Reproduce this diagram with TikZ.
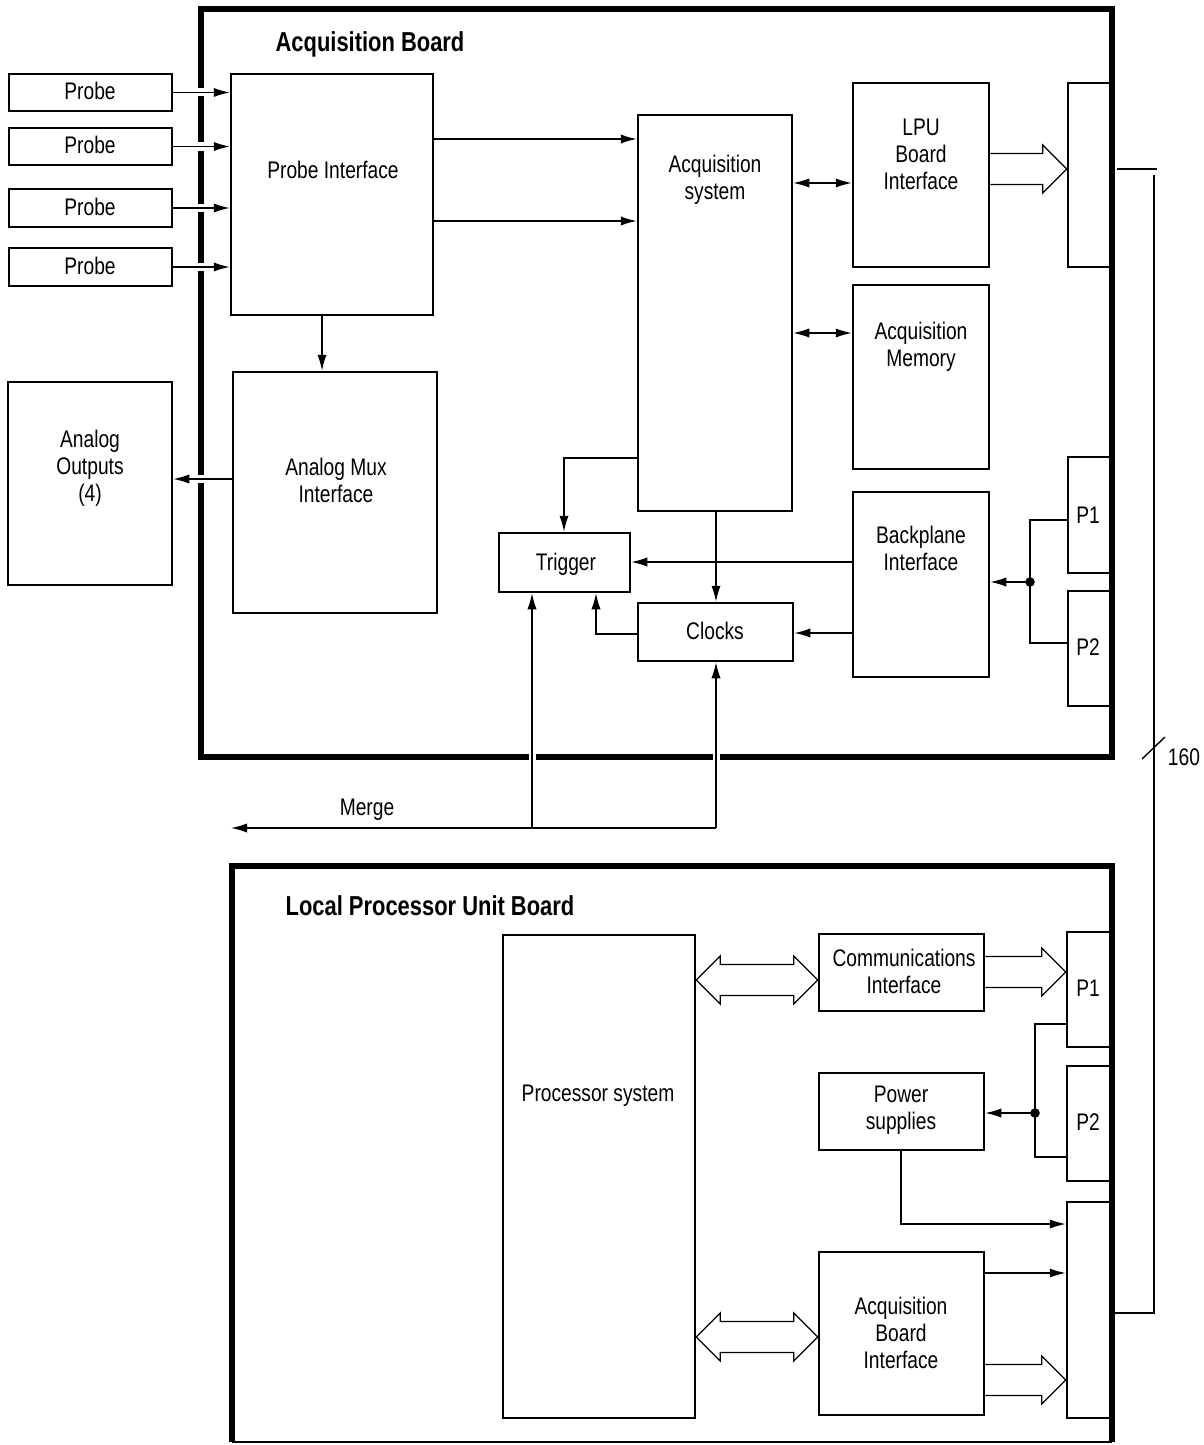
\documentclass[tikz,border=0pt]{standalone}
\usepackage{fontspec}
\setmainfont{Liberation Sans}[FakeStretch=0.8]
\usetikzlibrary{arrows.meta,fit,calc}
\newcommand\fatright[3]{\draw[fat] let \p1=(#1), \p2=(#2), \p3=(#3) in
  (\x1,\y3+7.75pt) -- (\x2-12pt,\y3+7.75pt) -- (\x2-12pt,\y3+12pt) -- (\x2,\y3)
  -- (\x2-12pt,\y3-12pt) -- (\x2-12pt,\y3-7.75pt) -- (\x1,\y3-7.75pt);}
\newcommand\fatboth[3]{\draw[fat] let \p1=(#1), \p2=(#2), \p3=(#3) in
  (\x1,\y3) -- (\x1+12pt,\y3+12pt) -- (\x1+12pt,\y3+7.75pt) -- (\x2-12pt,\y3+7.75pt)
  -- (\x2-12pt,\y3+12pt) -- (\x2,\y3) -- (\x2-12pt,\y3-12pt) -- (\x2-12pt,\y3-7.75pt)
  -- (\x1+12pt,\y3-7.75pt) -- (\x1+12pt,\y3-12pt) -- cycle;}
\begin{document}
\begin{tikzpicture}[x=0.5pt,y=-0.5pt,
  box/.style={draw, line width=1.25pt, inner sep=0pt},
  board/.style={draw=none, inner sep=0pt, outer sep=0pt},
  bline/.style={line width=2.7pt, line join=miter},
  wire/.style={line width=0.7pt},
  arr/.style={wire, -{Latex[length=8pt,width=4.6pt]}},
  darr/.style={wire, {Latex[length=8pt,width=4.6pt]}-{Latex[length=8pt,width=4.6pt]}},
  fat/.style={line width=0.65pt, line join=miter},
  txt/.style={font=\fontsize{12}{13.5}\selectfont, align=center, inner sep=0pt},
  ttl/.style={font=\fontsize{13.7}{16}\selectfont\bfseries, inner sep=0pt},
]
\useasboundingbox[fill=white] (0,0) rectangle (1204,1445);

% ---------- boards ----------
\node[board, fit={(201,9) (1112,757)}] (acqb) {};
\draw[bline] (acqb.north west) rectangle (acqb.south east);
\node[board, fit={(232,866) (1112,1442)}] (lpub) {};
\draw[bline] (lpub.south west) -- (lpub.north west) -- (lpub.north east) -- (lpub.south east);
\draw[wire] (lpub.south west) -- (lpub.south east);

\node[ttl] (t1) at (370,44) {Acquisition Board};
\node[ttl] (t2) at (430,906) {Local Processor Unit Board};

% ---------- acquisition board boxes ----------
\node[box, fit={(9,74) (172,111)}] (p1) {};
\node[box, fit={(9,128) (172,165)}] (p2) {};
\node[box, fit={(9,189) (172,227)}] (p3) {};
\node[box, fit={(9,248) (172,286)}] (p4) {};
\node[txt] (tp1) at (90,91) {Probe};
\node[txt] (tp2) at (90,145) {Probe};
\node[txt] (tp3) at (90,207) {Probe};
\node[txt] (tp4) at (90,266) {Probe};

\node[box, fit={(231,74) (433,315)}] (pi) {};
\node[txt] (tpi) at (333,170) {Probe Interface};

\node[box, fit={(638,115) (792,511)}] (acs) {};
\node[txt] (tacs) at (715,180) {Acquisition\\system};

\node[box, fit={(853,83) (989,267)}] (lpu) {};
\node[txt] (tlpu) at (921,154) {LPU\\Board\\Interface};

\node[box, fit={(853,285) (989,469)}] (mem) {};
\node[txt] (tmem) at (921,347) {Acquisition\\Memory};

\node[box, fit={(1068,83) (1111,267)}] (cn1) {};

\node[box, fit={(853,492) (989,677)}] (bp) {};
\node[txt] (tbp) at (921,548) {Backplane\\Interface};

\node[box, fit={(1068,457) (1111,573)}] (ap1) {};
\node[box, fit={(1068,591) (1111,706)}] (ap2) {};
\node[txt] (tap1) at (1088,515) {P1};
\node[txt] (tap2) at (1088,647) {P2};

\node[box, fit={(499,533) (630,592)}] (trg) {};
\node[txt] (ttrg) at (566,564) {Trigger};
\node[box, fit={(638,603) (793,661)}] (clk) {};
\node[txt] (tclk) at (715,631) {Clocks};

\node[box, fit={(233,372) (437,613)}] (amux) {};
\node[txt] (tamux) at (336,480) {Analog Mux\\Interface};
\node[box, fit={(8,382) (172,585)}] (aout) {};
\node[txt] (taout) at (90,468) {Analog\\Outputs\\(4)};

% ---------- gaps in board edges ----------
\foreach \n in {p1,p2,p3,p4}
  \fill[white] ($(acqb.west |- \n.east)+(-5,-4)$) rectangle ++(10,8);
\fill[white] ($(acqb.west |- 0,479)+(-5,-4)$) rectangle ++(10,8);
\coordinate (m1) at (532,828);
\coordinate (m2) at (716,828);
\coordinate (mend) at (231,828);
\fill[white] ($(acqb.south -| m1)+(-3.5,-5)$) rectangle ++(7,10);
\fill[white] ($(acqb.south -| m2)+(-3.5,-5)$) rectangle ++(7,10);

% ---------- acquisition board connectors ----------
\foreach \n in {p1,p2,p3,p4}
  \draw[arr] (\n.east) -- (pi.west |- \n.east);
\draw[arr] (pi.east |- 0,139) -- (acs.west |- 0,139);
\draw[arr] (pi.east |- 0,221) -- (acs.west |- 0,221);
\draw[arr] (pi.south -| 322,0) -- (amux.north -| 322,0);
\draw[arr] (amux.west |- 0,479) -- (aout.east |- 0,479);
\draw[darr] (acs.east |- 0,183) -- (lpu.west |- 0,183);
\draw[darr] (acs.east |- 0,333) -- (mem.west |- 0,333);
\fatright{lpu.east}{cn1.west}{0,169}
\draw[arr] (acs.west |- 0,458) -| (trg.north -| 564,0);
\draw[arr] (acs.south -| 716,0) -- (clk.north -| 716,0);
\draw[arr] (bp.west |- 0,562) -- (trg.east |- 0,562);
\draw[arr] (bp.west |- 0,633) -- (clk.east |- 0,633);
\draw[arr] (clk.west |- 0,634) -| (trg.south -| 596,0);

\coordinate (j1) at (1030,582);
\draw[wire] (ap1.west |- 0,520) -| (j1) |- (ap2.west |- 0,643);
\fill (j1) circle (2.4pt);
\draw[arr] (j1) -- (bp.east |- j1);

\draw[arr] (m1) -- (trg.south -| m1);
\draw[arr] (m2) -- (clk.south -| m2);
\draw[arr] (m2) -- (mend);
\node[txt] (tmerge) at (367,810) {Merge};

% ---------- 160 bus ----------
\coordinate (b1) at (1117,169);
\coordinate (b2) at (1157,169);
\coordinate (b3) at (1154,175);
\coordinate (b4) at (1154,1313);
\draw[wire] (b1) -- (b2);
\draw[wire] (b3) -- (b4) -- (lpub.east |- b4);
\coordinate (s1) at (1142,759);
\coordinate (s2) at (1165,737);
\draw[wire] (s1) -- (s2);
\node[txt] (t160) at (1184,757) {160};

% ---------- LPU board boxes ----------
\node[box, fit={(503,935) (695,1418)}] (proc) {};
\node[txt] (tproc) at (598,1096) {Processor system};
\node[box, fit={(819,934) (984,1011)}] (comm) {};
\node[txt] (tcomm) at (904,971) {Communications\\Interface};
\node[box, fit={(1067,932) (1111,1047)}] (lp1) {};
\node[box, fit={(1067,1066) (1111,1181)}] (lp2) {};
\node[txt] (tlp1) at (1088,988) {P1};
\node[txt] (tlp2) at (1088,1122) {P2};
\node[box, fit={(1067,1202) (1111,1418)}] (cn3) {};
\node[box, fit={(819,1073) (984,1150)}] (pwr) {};
\node[txt] (tpwr) at (901,1110) {Power\\supplies};
\node[box, fit={(819,1252) (984,1415)}] (abi) {};
\node[txt] (tabi) at (901,1333) {Acquisition\\Board\\Interface};

% ---------- LPU board connectors ----------
\fatboth{proc.east}{comm.west}{0,980}
\fatright{comm.east}{lp1.west}{0,972}
\coordinate (j2) at (1035,1113);
\draw[wire] (lp1.west |- 0,1024) -| (j2) |- (lp2.west |- 0,1157);
\fill (j2) circle (2.4pt);
\draw[arr] (j2) -- (pwr.east |- j2);
\draw[arr] (pwr.south -| 901,0) |- (cn3.west |- 0,1224);
\draw[arr] (abi.east |- 0,1273) -- (cn3.west |- 0,1273);
\fatright{abi.east}{cn3.west}{0,1380}
\fatboth{proc.east}{abi.west}{0,1337}
\end{tikzpicture}
\end{document}
